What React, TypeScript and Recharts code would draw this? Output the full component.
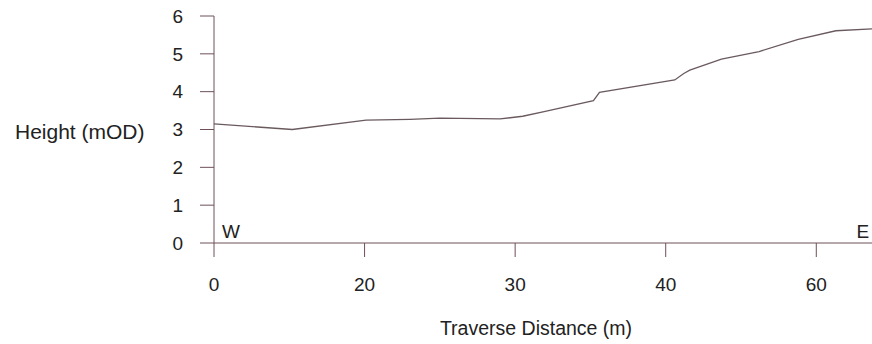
import React from 'react';
import { LineChart, Line, XAxis, YAxis, ReferenceDot } from 'recharts';

// distance along traverse, in axis units (one tick step = 10)
const distance = [0, 5.2, 10.1, 13, 15, 19, 20.5, 22, 25.2, 25.6, 30.6, 31.2, 31.6, 33.7, 36.2, 38.8, 41.3, 43.7];
const height = [3.15, 3.0, 3.25, 3.27, 3.3, 3.28, 3.35, 3.48, 3.76, 3.98, 4.31, 4.48, 4.57, 4.86, 5.06, 5.38, 5.61, 5.66];

const xTicks = [0, 10, 20, 30, 40];
const xTickLabels = ['0', '20', '30', '40', '60'];
const yTicks = [0, 1, 2, 3, 4, 5, 6];

const endLabels = ['W', 'E'];
const endPositions = [1.13, 43.1];

const AXIS = '#6e5057';
const TEXT = '#222';
const FONT = '"Liberation Sans", Arial, sans-serif';

export default function App() {
  const data = distance.map((d, i) => ({ d, h: height[i] }));

  return (
    <div style={{ position: 'absolute', left: 0, top: 0, width: 872, height: 344, background: '#fff', fontFamily: FONT }}>
      <LineChart width={872} height={344} data={data} margin={{ top: 16, right: 0, bottom: 0, left: 0 }}>
        <XAxis
          dataKey="d"
          type="number"
          domain={[0, 43.7]}
          ticks={xTicks}
          tickFormatter={(v: number) => xTickLabels[xTicks.indexOf(v)]}
          height={101}
          stroke={AXIS}
          tickSize={14}
          tickMargin={21}
          tick={{ fill: TEXT, fontSize: 19, fontFamily: FONT }}
          label={{ value: 'Traverse Distance (m)', position: 'insideBottom', offset: 9, dx: -7, fill: TEXT, fontSize: 19.5, fontFamily: FONT }}
        />
        <YAxis
          type="number"
          domain={[0, 6]}
          ticks={yTicks}
          width={214}
          stroke={AXIS}
          tickSize={14}
          tickMargin={17}
          tick={{ fill: TEXT, fontSize: 19, fontFamily: FONT }}
          label={{ value: 'Height (mOD)', position: 'insideLeft', offset: 15, dy: 2, fill: TEXT, fontSize: 21, fontFamily: FONT }}
        />
        {endLabels.map((l, i) => (
          <ReferenceDot
            key={l}
            x={endPositions[i]}
            y={0}
            r={0}
            fill="none"
            stroke="none"
            label={{ value: l, position: 'top', offset: 5, fill: TEXT, fontSize: 19, fontFamily: FONT }}
          />
        ))}
        <Line
          dataKey="h"
          stroke="#6a5a5e"
          strokeWidth={1.3}
          dot={false}
          isAnimationActive={false}
        />
      </LineChart>
    </div>
  );
}
